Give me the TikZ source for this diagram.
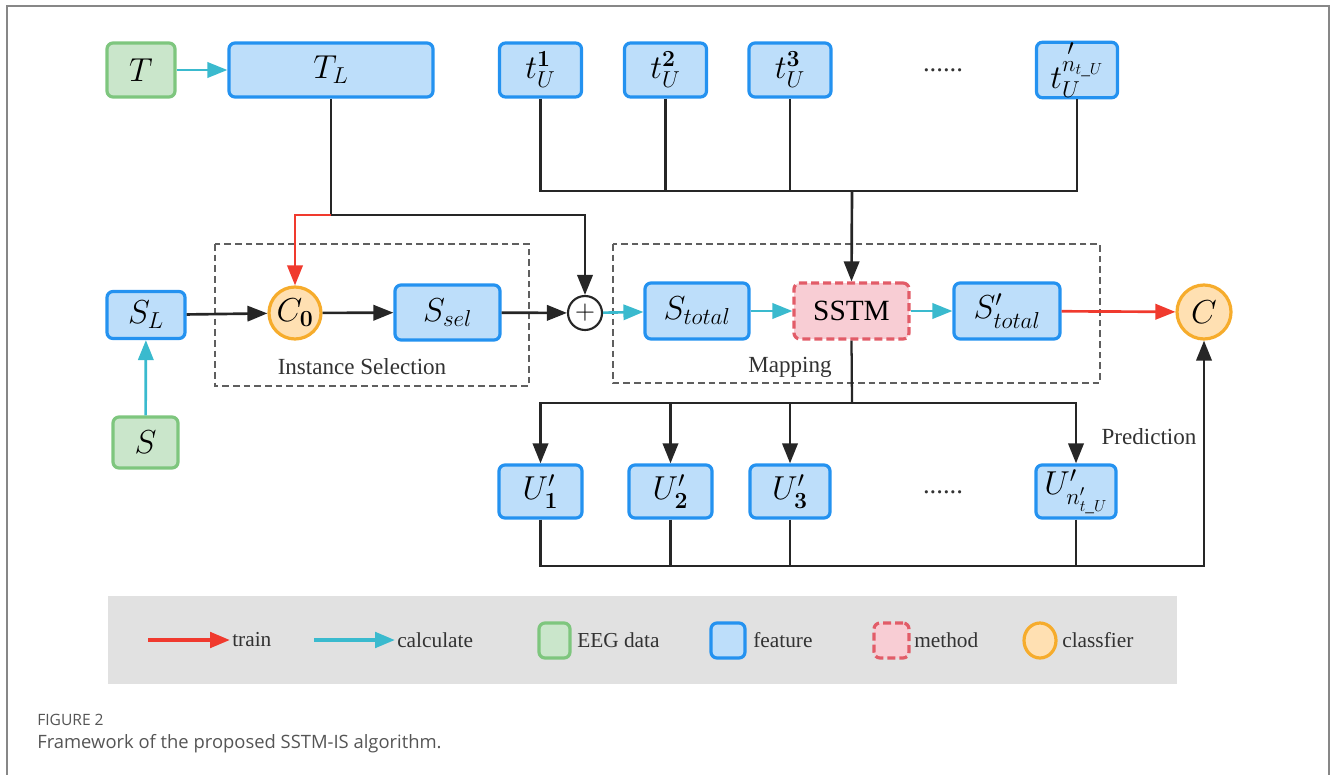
\documentclass[tikz,border=0pt]{standalone}
\usepackage{amsmath}
\usepackage[no-math]{fontspec}
\setmainfont{Liberation Serif}
\newfontfamily\capfont{Open Sans}
\usetikzlibrary{arrows.meta,shapes.geometric}
\definecolor{featF}{RGB}{189,222,250}
\definecolor{featB}{RGB}{36,146,240}
\definecolor{eegF}{RGB}{202,230,203}
\definecolor{eegB}{RGB}{126,198,126}
\definecolor{methF}{RGB}{248,205,212}
\definecolor{methB}{RGB}{226,92,104}
\definecolor{clfF}{RGB}{255,224,178}
\definecolor{clfB}{RGB}{246,172,44}
\definecolor{calcC}{RGB}{58,186,206}
\definecolor{trainC}{RGB}{240,58,46}
\definecolor{lineC}{RGB}{38,38,38}
\definecolor{grpC}{RGB}{95,95,95}
\definecolor{legF}{RGB}{225,225,225}
\definecolor{frameC}{RGB}{135,135,135}
\definecolor{txtC}{RGB}{50,50,50}
\definecolor{capC}{RGB}{85,85,85}
\newcommand\mathfs{\fontsize{26}{28}\selectfont}
\newcommand\lblfs{\fontsize{17.3}{19}\selectfont}
\newcommand\legfs{\fontsize{16}{18}\selectfont}
\newcommand\usc{\text{\_}}
\begin{document}
\begin{tikzpicture}[x=0.75pt,y=-0.75pt,
  sz/.style 2 args={minimum width=#1*0.75pt, minimum height=#2*0.75pt},
  feat/.style={draw=featB, fill=featF, line width=2.4pt, rounded corners=4.5pt, inner sep=0pt, font=\mathfs},
  eeg/.style={draw=eegB, fill=eegF, line width=2.4pt, rounded corners=4.5pt, inner sep=0pt, font=\mathfs},
  meth/.style={draw=methB, fill=methF, line width=2.4pt, dashed, dash pattern=on 6pt off 3pt, rounded corners=4.5pt, inner sep=0pt},
  clf/.style={draw=clfB, fill=clfF, line width=2.4pt, circle, inner sep=0pt, font=\mathfs},
  grp/.style={draw=grpC, line width=1.1pt, dash pattern=on 5pt off 3pt},
  lbl/.style={font=\lblfs, text=txtC, inner sep=0pt},
  leg/.style={font=\legfs, text=txtC, inner sep=0pt, anchor=west},
  tip/.style={-{Triangle[length=15pt,width=11.5pt]}},
  arr/.style={draw=lineC, line width=2pt, tip},
  ln/.style={draw=lineC, line width=1.7pt},
  calc/.style={draw=calcC, line width=2pt, tip},
  trn/.style={draw=trainC, line width=2pt, tip},
  ddots/.style={font=\fontsize{20}{22}\selectfont, text=txtC, inner sep=0pt}
]
\useasboundingbox (0,0) rectangle (1330,774);
% outer frame
\draw[frameC, line width=1.5pt] (7,776) -- (7,6) -- (1328.5,6) -- (1328.5,776);

% groups
\draw[grp] (215,244) rectangle (529,386);
\draw[grp] (613,244) rectangle (1100,383);
\node[lbl] (lIS) at (362,367) {Instance Selection};
\node[lbl] (lMap) at (790,367) {Mapping};
\node[lbl] (lPred) at (1149,437) {Prediction};

% top row
\node[eeg, sz={68}{54}] (T) at (141,70) {$T$};
\node[feat, sz={204}{54}] (TL) at (331,70) {$T_L$};
\node[feat, sz={82}{54}] (t1) at (540.5,70) {$t_U^{\mathbf{1}}$};
\node[feat, sz={82}{54}] (t2) at (665.5,70) {$t_U^{\mathbf{2}}$};
\node[feat, sz={82}{54}] (t3) at (790,70) {$t_U^{\mathbf{3}}$};
\node[ddots] (dtop) at (943,70) {......};
\node[feat, sz={81}{54}] (tn) at (1077,70) {$t_U^{\rlap{\kern4pt\raisebox{12pt}{$\scriptstyle\prime$}}n_{t\usc U}}$};

% middle row
\node[feat, sz={78}{47}] (SL) at (146,315) {$S_L$};
\node[eeg, sz={65}{51}] (S) at (145.5,442.5) {$S$};
\node[clf, minimum size=52*0.75pt] (C0) at (295,313) {$C_{\mathbf{0}}$};
\node[feat, sz={105}{55}] (Ssel) at (447.5,312.5) {$S_{sel}$};
\node[draw=lineC, line width=1.6pt, circle, minimum size=34*0.75pt, inner sep=0pt, font=\fontsize{22}{22}\selectfont] (op) at (585,313) {$+$};
\node[feat, sz={104}{56}] (Stot) at (697,311) {$S_{total}$};
\node[meth, sz={115}{56}, font=\fontsize{22}{24}\selectfont] (SSTM) at (851.5,311) {SSTM};
\node[feat, sz={106}{56}] (Stotp) at (1007,311) {$S'_{total}$};
\node[clf, minimum size=54*0.75pt] (C) at (1204,312) {$C$};

% bottom row
\node[feat, sz={83}{53}] (U1) at (540.5,491.5) {$U'_{\mathbf{1}}$};
\node[feat, sz={83}{53}] (U2) at (670.5,491.5) {$U'_{\mathbf{2}}$};
\node[feat, sz={80}{53}] (U3) at (790,491.5) {$U'_{\mathbf{3}}$};
\node[ddots] (dbot) at (943,492) {......};
\node[feat, sz={80}{53}] (Un) at (1076,491.5) {$U'_{n'_{t\usc U}}$};

% junction coordinates
\coordinate (jT) at (331,215);
\coordinate (jt) at (852,191);
\coordinate (jb) at (852,403);
\coordinate (jc) at (1204,566);

% connectors
\draw[calc] (T) -- (TL);
\draw[ln] (TL.south) -- (jT);
\draw[arr] (jT) -| (op.north);
\draw[trn] (jT) -| (C0.north);

\draw[ln] (t1.south) |- (jt);
\draw[ln] (tn.south) |- (jt);
\draw[ln] (t2.south) -- (t2.south |- jt);
\draw[ln] (t3.south) -- (t3.south |- jt);
\draw[arr] (jt) -- (SSTM.north);

\draw[calc] (S) -- (SL);
\draw[arr] (SL) -- (C0);
\draw[arr] (C0) -- (Ssel);
\draw[arr] (Ssel) -- (op);
\draw[calc] (op) -- (Stot);
\draw[calc] (Stot) -- (SSTM);
\draw[calc] (SSTM) -- (Stotp);
\draw[trn] (Stotp) -- (C);

\draw[ln] (SSTM.south) -- (jb);
\draw[arr] (jb) -| (U1.north);
\draw[arr] (jb) -| (Un.north);
\draw[arr] (U2.north |- jb) -- (U2.north);
\draw[arr] (U3.north |- jb) -- (U3.north);

\draw[ln] (U2.south) -- (U2.south |- jc);
\draw[ln] (U3.south) -- (U3.south |- jc);
\draw[ln] (Un.south) -- (Un.south |- jc);
\draw[arr] (U1.south) |- (jc) -- (C.south);

% legend
\fill[legF] (108,596) rectangle (1177,684);
\coordinate (lr1) at (148,640); \coordinate (lr2) at (230,640);
\coordinate (lc1) at (314,640); \coordinate (lc2) at (395,640);
\draw[trn, line width=3pt] (lr1) -- (lr2);
\node[leg] (ltrain) at (232,640) {train};
\draw[calc, line width=3pt] (lc1) -- (lc2);
\node[leg] (lcalc) at (397,640) {calculate};
\node[eeg, sz={31}{35}] (leeg) at (554.5,640.5) {};
\node[leg] (leegt) at (577,640) {EEG data};
\node[feat, sz={34}{35}] (lfeat) at (728,640.5) {};
\node[leg] (lfeatt) at (753,640) {feature};
\node[meth, sz={35}{35}] (lmeth) at (891.5,640.5) {};
\node[leg] (lmetht) at (914,640) {method};
\node[draw=clfB, fill=clfF, line width=2.4pt, ellipse, minimum width=32*0.75pt, minimum height=35*0.75pt, inner sep=0pt] (lclf) at (1040,640.5) {};
\node[leg] (lclft) at (1062,640) {classfier};

% caption
\node[anchor=west, inner sep=0pt, text=capC, font=\capfont\fontsize{11.7}{13}\selectfont] (cap1) at (37,720) {FIGURE 2};
\node[anchor=west, inner sep=0pt, text=capC, font=\capfont\fontsize{13.8}{15}\selectfont] (cap2) at (37,744) {Framework of the proposed SSTM-IS algorithm.};
\end{tikzpicture}
\end{document}
